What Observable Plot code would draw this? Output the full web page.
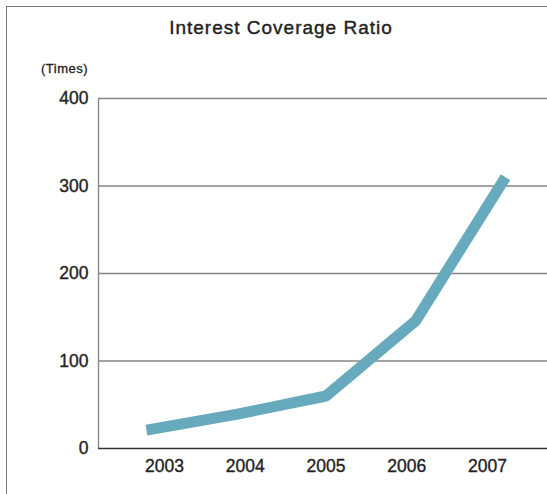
<!DOCTYPE html>
<html>
<head>
<meta charset="utf-8">
<script src="https://cdn.jsdelivr.net/npm/d3@7"></script>
<script src="https://cdn.jsdelivr.net/npm/@observablehq/plot@0.6"></script>
<style>
  html, body { margin: 0; padding: 0; background: #fff; }
  body { width: 547px; height: 494px; position: relative; overflow: hidden; font-family: "Liberation Sans", Arial, sans-serif; }
  #frame { position: absolute; left: 6px; top: 6px; width: 600px; height: 600px; border-left: 1.5px solid #7a7a7a; border-top: 1.5px solid #7a7a7a; }
  #title { position: absolute; left: 0; width: 562px; top: 17px; text-align: center; font-size: 19px; color: #222; letter-spacing: 1px; -webkit-text-stroke: 0.4px #222; }
  #unit { position: absolute; left: 41px; top: 61px; font-size: 13px; color: #222; letter-spacing: 0.5px; -webkit-text-stroke: 0.3px #222; }
  #chart { position: absolute; left: 0; top: 0; }
</style>
</head>
<body>
<div id="frame"></div>
<div id="chart"></div>
<div id="title">Interest Coverage Ratio</div>
<div id="unit">(Times)</div>
<script>
const years = [2003, 2004, 2005, 2006, 2007];
const ratio = [21, 39, 60, 146, 310];
const yTicks = [0, 100, 200, 300, 400];
const gridTicks = [100, 200, 300, 400];

const data = years.map((year, i) => ({year, value: ratio[i]}));
// tick labels sit slightly inside the line's span in the original
const labelX = d => 2005 + (d - 2005) * 0.9;
const axisX = 2003 - 48 / 89.75;
const rightX = 2003 + 401 / 89.75;

const chart = Plot.plot({
  width: 547,
  height: 494,
  marginLeft: 98,
  marginTop: 98,
  marginRight: 0,
  marginBottom: 46,
  style: { fontFamily: "'Liberation Sans', Arial, sans-serif", background: "transparent", overflow: "visible" },
  x: { type: "linear", domain: [2003, 2007], range: [146, 505], axis: null },
  y: { domain: [0, 400], axis: null },
  marks: [
    Plot.ruleY(gridTicks, { x1: axisX, x2: rightX, stroke: "#858585", strokeWidth: 1.3 }),
    Plot.ruleX([axisX], { y1: 0, y2: 400, stroke: "#858585", strokeWidth: 1.3 }),
    Plot.ruleY([0], { x1: axisX, x2: rightX, stroke: "#333", strokeWidth: 1.5 }),
    Plot.line(data, { x: "year", y: "value", stroke: "#67a9bd", strokeWidth: 11, strokeLinecap: "butt", strokeLinejoin: "miter" }),
    Plot.text(yTicks, { x: axisX, y: d => d, text: d => String(d), textAnchor: "end", dx: -10, fontSize: 17.5, fill: "#222", stroke: "#222", strokeWidth: 0.35, letterSpacing: "0.4px" }),
    Plot.text(years, { x: labelX, y: 0, text: d => String(d), dy: 18, textAnchor: "middle", fontSize: 17.5, fill: "#222", stroke: "#222", strokeWidth: 0.35, letterSpacing: "0.4px" })
  ]
});
document.getElementById("chart").appendChild(chart);
</script>
</body>
</html>
